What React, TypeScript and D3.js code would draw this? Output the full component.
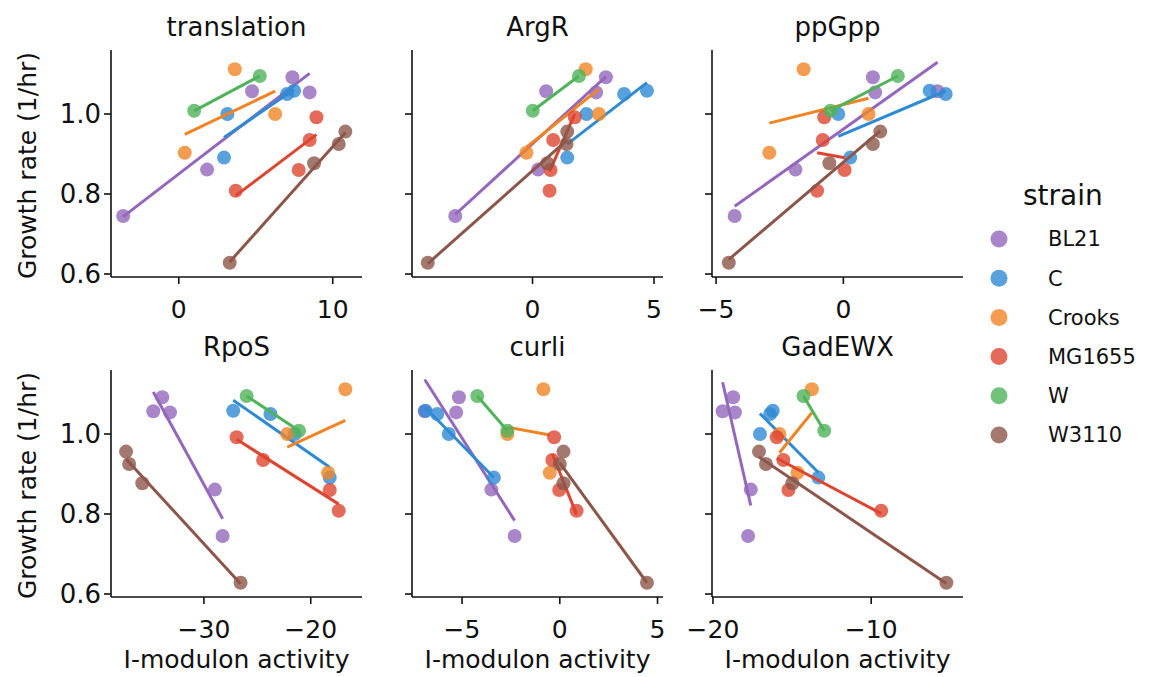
import React from 'react';
import * as d3 from 'd3';

// strains (hue order) and colours
const strains = ['BL21', 'C', 'Crooks', 'MG1655', 'W', 'W3110'];
const colors = ['#9467bd', '#2f8ad4', '#f08424', '#dd4530', '#4fb35a', '#8c564b'];

// growth rate of each sample, per strain
const growthBL21 = [1.092, 1.057, 1.054, 0.861, 0.745];
const growthC = [1.058, 1.05, 1.0, 0.891];
const growthCrooks = [1.112, 1.0, 0.903];
const growthMG1655 = [0.992, 0.935, 0.86, 0.808];
const growthW = [1.095, 1.008];
const growthW3110 = [0.956, 0.925, 0.877, 0.628];
const growth = [growthBL21, growthC, growthCrooks, growthMG1655, growthW, growthW3110];

// I-modulon activity per panel, same sample order as growth arrays
const translationX = [
  [7.38, 4.76, 8.5, 1.84, -3.61],
  [7.49, 7.03, 3.16, 2.94],
  [3.64, 6.26, 0.39],
  [8.94, 8.5, 7.79, 3.7],
  [5.26, 1.0],
  [10.82, 10.39, 8.79, 3.31],
];
const argRX = [
  [3.02, 0.56, 2.62, 0.23, -3.18],
  [4.71, 3.77, 2.22, 1.43],
  [2.19, 2.73, -0.25],
  [1.74, 0.85, 0.74, 0.7],
  [1.91, 0.01],
  [1.43, 1.4, 0.61, -4.31],
];
const ppGppX = [
  [1.16, 3.7, 1.25, -1.88, -4.27],
  [3.39, 4.02, -0.2, 0.27],
  [-1.56, 0.99, -2.91],
  [-0.75, -0.81, 0.05, -1.03],
  [2.14, -0.51],
  [1.45, 1.16, -0.55, -4.5],
];
const rpoSX = [
  [-33.9, -34.74, -33.18, -28.97, -28.25],
  [-27.26, -23.77, -21.5, -18.22],
  [-16.76, -22.2, -18.38],
  [-26.94, -24.46, -18.22, -17.38],
  [-26.0, -21.1],
  [-37.29, -37.0, -35.77, -26.57],
];
const curliX = [
  [-5.16, -6.91, -5.3, -3.5, -2.31],
  [-6.87, -6.27, -5.68, -3.37],
  [-0.84, -2.68, -0.51],
  [-0.29, -0.38, -0.03, 0.86],
  [-4.22, -2.68],
  [0.19, 0.0, 0.19, 4.46],
];
const gadEWXX = [
  [-18.72, -19.39, -18.61, -17.61, -17.78],
  [-16.22, -16.39, -17.03, -13.34],
  [-13.75, -15.8, -14.66],
  [-15.97, -15.55, -15.23, -9.37],
  [-14.28, -12.97],
  [-17.09, -16.65, -14.98, -5.25],
];

// panel titles, axis limits and ticks
const titles = ['translation', 'ArgR', 'ppGpp', 'RpoS', 'curli', 'GadEWX'];
const activities = [translationX, argRX, ppGppX, rpoSX, curliX, gadEWXX];
const xDomains = [[-4.4, 11.9], [-4.96, 5.37], [-5.16, 4.7], [-38.7, -15.2], [-7.56, 5.28], [-20.06, -4.2]];
const xTicks = [[0, 10], [0, 5], [-5, 0], [-30, -20], [-5, 0, 5], [-20, -10]];
const yTicks = [0.6, 0.8, 1.0];

const W = 1157;
const H = 677;
const colX = [111, 412, 712];
const rowY = [50, 370];
const panelW = 251;
const panelH = 227;
const font = 'DejaVu Sans, sans-serif';

const fmtTick = (v: number) => (v < 0 ? '\u2212' + Math.abs(v) : String(v));

// simple least squares fit, drawn over the data range
function fitLine(xs: number[], ys: number[]) {
  const mx = d3.mean(xs)!;
  const my = d3.mean(ys)!;
  let sxy = 0;
  let sxx = 0;
  xs.forEach((x, i) => {
    sxy += (x - mx) * (ys[i] - my);
    sxx += (x - mx) * (x - mx);
  });
  const slope = sxx === 0 ? 0 : sxy / sxx;
  const [x0, x1] = d3.extent(xs) as [number, number];
  return [
    [x0, my + slope * (x0 - mx)],
    [x1, my + slope * (x1 - mx)],
  ];
}

function Panel({ idx }: { idx: number }) {
  const col = idx % 3;
  const row = Math.floor(idx / 3);
  const x = d3.scaleLinear().domain(xDomains[idx]).range([0, panelW]);
  const y = d3.scaleLinear().domain([0.5925, 1.16]).range([panelH, 0]);
  const line = d3.line<number[]>().x(d => x(d[0])).y(d => y(d[1]));
  const xs = activities[idx];

  return (
    <g transform={`translate(${colX[col]},${rowY[row]})`}>
      <text x={panelW / 2} y={-14} textAnchor="middle" fontSize={26} fontFamily={font} fill="#111">
        {titles[idx]}
      </text>
      {strains.map((s, si) => (
        <g key={s}>
          {xs[si].map((v, k) => (
            <circle key={k} cx={x(v)} cy={y(growth[si][k])} r={7} fill={colors[si]} fillOpacity={0.8} />
          ))}
          <path d={line(fitLine(xs[si], growth[si]))!} stroke={colors[si]} strokeWidth={3} fill="none" />
        </g>
      ))}
      {/* y axis */}
      <line x1={0} x2={0} y1={0} y2={panelH} stroke="#111" strokeWidth={1.6} />
      {yTicks.map(t => (
        <g key={t} transform={`translate(0,${y(t)})`}>
          <line x1={-7} x2={0} stroke="#111" strokeWidth={1.6} />
          {col === 0 && (
            <text x={-10} dy="0.35em" textAnchor="end" fontSize={26} fontFamily={font} fill="#111">
              {t.toFixed(1)}
            </text>
          )}
        </g>
      ))}
      {/* x axis */}
      <line x1={0} x2={panelW} y1={panelH} y2={panelH} stroke="#111" strokeWidth={1.6} />
      {xTicks[idx].map(t => (
        <g key={t} transform={`translate(${x(t)},${panelH})`}>
          <line y1={0} y2={7} stroke="#111" strokeWidth={1.6} />
          <text y={41} textAnchor="middle" fontSize={25} fontFamily={font} fill="#111">
            {fmtTick(t)}
          </text>
        </g>
      ))}
      {col === 0 && (
        <text
          transform={`translate(-75,${panelH / 2 + 2}) rotate(-90)`}
          textAnchor="middle"
          fontSize={25}
          fontFamily={font}
          fill="#111"
        >
          Growth rate (1/hr)
        </text>
      )}
      {row === 1 && (
        <text x={panelW / 2} y={panelH + 71} textAnchor="middle" fontSize={25} fontFamily={font} fill="#111">
          I-modulon activity
        </text>
      )}
    </g>
  );
}

export default function App() {
  return (
    <svg
      width={W}
      height={H}
      style={{ position: 'absolute', left: 0, top: 0, background: '#fff' }}
    >
      {titles.map((t, i) => (
        <Panel key={t} idx={i} />
      ))}
      <g transform="translate(999,0)">
        <text x={24} y={205} fontSize={28} fontFamily={font} fill="#111">
          strain
        </text>
        {strains.map((s, i) => (
          <g key={s} transform={`translate(0,${239 + i * 39.2})`}>
            <circle r={8.5} fill={colors[i]} fillOpacity={0.8} />
            <text x={49} dy="0.35em" fontSize={21} fontFamily={font} fill="#111">
              {s}
            </text>
          </g>
        ))}
      </g>
    </svg>
  );
}
